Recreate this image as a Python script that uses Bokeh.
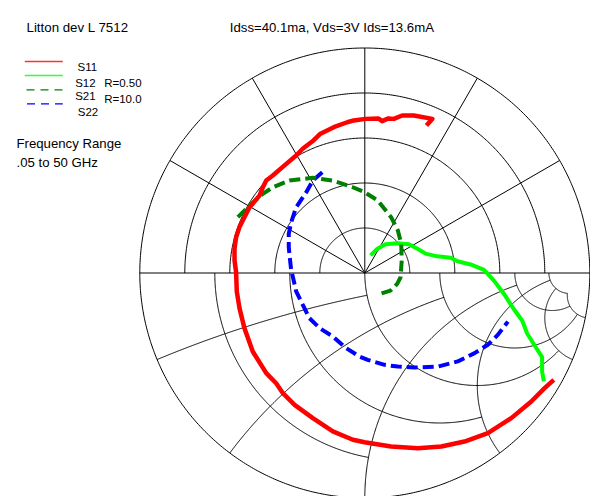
import numpy as np
from bokeh.plotting import figure
from bokeh.models import Label
from bokeh.embed import file_html
from bokeh.resources import INLINE

# ---------------- data ----------------
# S11 : real / imaginary parts (full scale = 1.0)
s11_re = [0.274, 0.300, 0.218, 0.166, 0.129, 0.105, 0.077, 0.061, 0.003, -0.049,
          -0.078, -0.138, -0.197, -0.228, -0.276, -0.305, -0.349, -0.409, -0.438, -0.453,
          -0.468, -0.512, -0.535, -0.557, -0.572, -0.579, -0.579, -0.572, -0.569, -0.557,
          -0.535, -0.498, -0.438, -0.394, -0.364, -0.312, -0.231, -0.142, -0.053, -0.001,
          0.117, 0.236, 0.340, 0.443, 0.547, 0.651, 0.740, 0.799, 0.840]
s11_im = [0.656, 0.685, 0.700, 0.700, 0.685, 0.687, 0.675, 0.687, 0.685, 0.678,
          0.670, 0.648, 0.619, 0.589, 0.552, 0.522, 0.485, 0.433, 0.411, 0.381,
          0.344, 0.292, 0.248, 0.204, 0.159, 0.108, 0.056, 0.004, -0.082, -0.156,
          -0.245, -0.349, -0.445, -0.490, -0.534, -0.586, -0.645, -0.704, -0.741, -0.752,
          -0.771, -0.779, -0.771, -0.749, -0.712, -0.645, -0.571, -0.512, -0.475]

# S12 : full scale R = 0.50
s12_scale = 0.50
s12_re = [0.013, 0.028, 0.046, 0.072, 0.098, 0.117, 0.135, 0.161, 0.191, 0.206,
          0.235, 0.265, 0.287, 0.309, 0.331, 0.350, 0.361, 0.380, 0.394, 0.394, 0.398]
s12_im = [0.039, 0.054, 0.064, 0.066, 0.064, 0.054, 0.043, 0.037, 0.034, 0.026,
          0.019, 0.007, -0.017, -0.046, -0.080, -0.106, -0.135, -0.165, -0.187, -0.219, -0.241]

# S21 : full scale R = 10.0
s21_scale = 10.0
s21_re = [-5.64, -5.12, -4.53, -4.09, -3.35, -2.31, -1.42, -0.53, -0.01, 0.58,
          1.17, 1.47, 1.62, 1.64, 1.59, 1.44, 1.14, 0.70, 0.55]
s21_im = [2.48, 3.00, 3.52, 3.81, 4.11, 4.23, 4.11, 3.81, 3.59, 3.22,
          2.48, 1.89, 1.30, 0.56, -0.19, -0.48, -0.78, -0.92, -0.85]

# S22 : full scale = 1.0
s22_re = [-0.189, -0.231, -0.260, -0.305, -0.327, -0.338, -0.338, -0.332, -0.327, -0.320,
          -0.305, -0.276, -0.246, -0.201, -0.142, -0.083, -0.024, 0.013, 0.088, 0.147,
          0.221, 0.324, 0.413, 0.488, 0.547, 0.591, 0.636]
s22_im = [0.448, 0.411, 0.359, 0.292, 0.226, 0.174, 0.115, 0.056, 0.011, -0.016,
          -0.082, -0.141, -0.201, -0.245, -0.282, -0.334, -0.371, -0.386, -0.408, -0.416,
          -0.420, -0.416, -0.393, -0.356, -0.319, -0.275, -0.216]

# chart grid values
polar_rings = [0.2, 0.4, 0.6, 0.8, 1.0]
polar_spokes_deg = [30, 60, 90, 120, 150]
smith_r = [0.2, 0.5, 1.0, 2.0, 5.0, 10.0]
smith_r_stop = [1.0, 2.0, 5.0, 10.0, 10.0, 10.0]      # reactance where r-circle stops
smith_x = [0.2, 0.5, 1.0, 2.0, 5.0, 10.0]
smith_x_stop = [1.0, 2.0, 5.0, 10.0, 10.0, 10.0]      # resistance where x-arc stops

title_left = "Litton dev L 7512"
title_right = "Idss=40.1ma, Vds=3V Ids=13.6mA"

# ---------------- layout ----------------
W, H = 590, 496
CX, CY, RPX = 364.3, 272.5, 225.0   # position of chart centre and radius (px)


def dx(X):
    return (X - CX) / RPX


def dy(Y):
    return (CY - Y) / RPX


p = figure(width=W, height=H, x_range=(dx(0), dx(W)), y_range=(dy(H), dy(0)),
           output_backend="svg", toolbar_location=None,
           x_axis_location=None, y_axis_location=None, min_border=0,
           outline_line_color=None, background_fill_color="white",
           border_fill_color="white")
p.xgrid.visible = False
p.ygrid.visible = False

GRID = dict(line_color="#000000", line_width=1)

# polar grid (upper half)
th = np.linspace(0, np.pi, 300)
for r in polar_rings[:-1]:
    p.line(r * np.cos(th), r * np.sin(th), **GRID)
tho = np.linspace(0, 2 * np.pi, 600)
p.line(np.cos(tho), np.sin(tho), **GRID)
for a in polar_spokes_deg:
    t = np.radians(a)
    p.line([0, np.cos(t)], [0, np.sin(t)], **GRID)
p.line([-1, 1], [0, 0], **GRID)

# Smith chart (lower half)
for r, xm in zip(smith_r, smith_r_stop):
    c = r / (r + 1.0)
    rho = 1.0 / (r + 1.0)
    z = r - 1j * xm
    G = (z - 1) / (z + 1)
    pe = np.angle(G - c)
    ph = np.linspace(-np.pi, pe, 300)
    p.line(c + rho * np.cos(ph), rho * np.sin(ph), **GRID)

for x, rm in zip(smith_x, smith_x_stop):
    cen = 1 - 1j / x
    rad = 1.0 / x
    z0 = complex(0.0, -x)
    z1 = complex(rm, -x)
    G0 = (z0 - 1) / (z0 + 1)
    G1 = (z1 - 1) / (z1 + 1)
    a0 = np.mod(np.angle(G0 - cen), 2 * np.pi)
    a1 = np.mod(np.angle(G1 - cen), 2 * np.pi)
    a = np.linspace(a0, a1, 300)
    p.line(cen.real + rad * np.cos(a), cen.imag + rad * np.sin(a), **GRID)

# ---------------- data traces ----------------
p.line(np.array(s12_re) / s12_scale, np.array(s12_im) / s12_scale,
       line_color="#00ff00", line_width=4, line_join="round")
p.line(s22_re, s22_im, line_color="#0000ff", line_width=4, line_dash="11 5")
p.line(np.array(s21_re) / s21_scale, np.array(s21_im) / s21_scale,
       line_color="#008000", line_width=4, line_dash="11 5")
p.line(s11_re, s11_im, line_color="#ff0000", line_width=4.5, line_join="round")

# ---------------- legend & texts ----------------
FONT = "'Liberation Sans', Arial, sans-serif"


def label(X, Y, txt, size):
    p.add_layout(Label(x=dx(X), y=dy(Y), text=txt, text_font=FONT,
                       text_font_size=size, text_color="#000000",
                       text_baseline="alphabetic", text_align="left"))


label(26, 26.5, title_left, "13.3px")
label(229.3, 26.5, title_right, "13.2px")

p.line([dx(24.3), dx(62.3)], [dy(61), dy(61)], line_color="#ff3030", line_width=1.5)
p.line([dx(24.3), dx(62.3)], [dy(75), dy(75)], line_color="#30ff30", line_width=1.5)
p.line([dx(26), dx(62.3)], [dy(89.3), dy(89.3)], line_color="#008000", line_width=1.2, line_dash="8 6")
p.line([dx(26.5), dx(62.3)], [dy(103.3), dy(103.3)], line_color="#0000ff", line_width=1.2, line_dash="8 6")

label(77, 66.3, "S11", "11.5px")
label(74.7, 82, "S12", "11.5px")
label(103.7, 82, "R=0.50", "11.5px")
label(74.7, 95, "S21", "11.5px")
label(103.7, 98.3, "R=10.0", "11.5px")
label(77.3, 111, "S22", "11.5px")
label(16, 142.7, "Frequency Range", "13.2px")
label(16, 161.7, ".05 to 50 GHz", "13.2px")

open("out.html", "w").write(file_html(p, INLINE))
